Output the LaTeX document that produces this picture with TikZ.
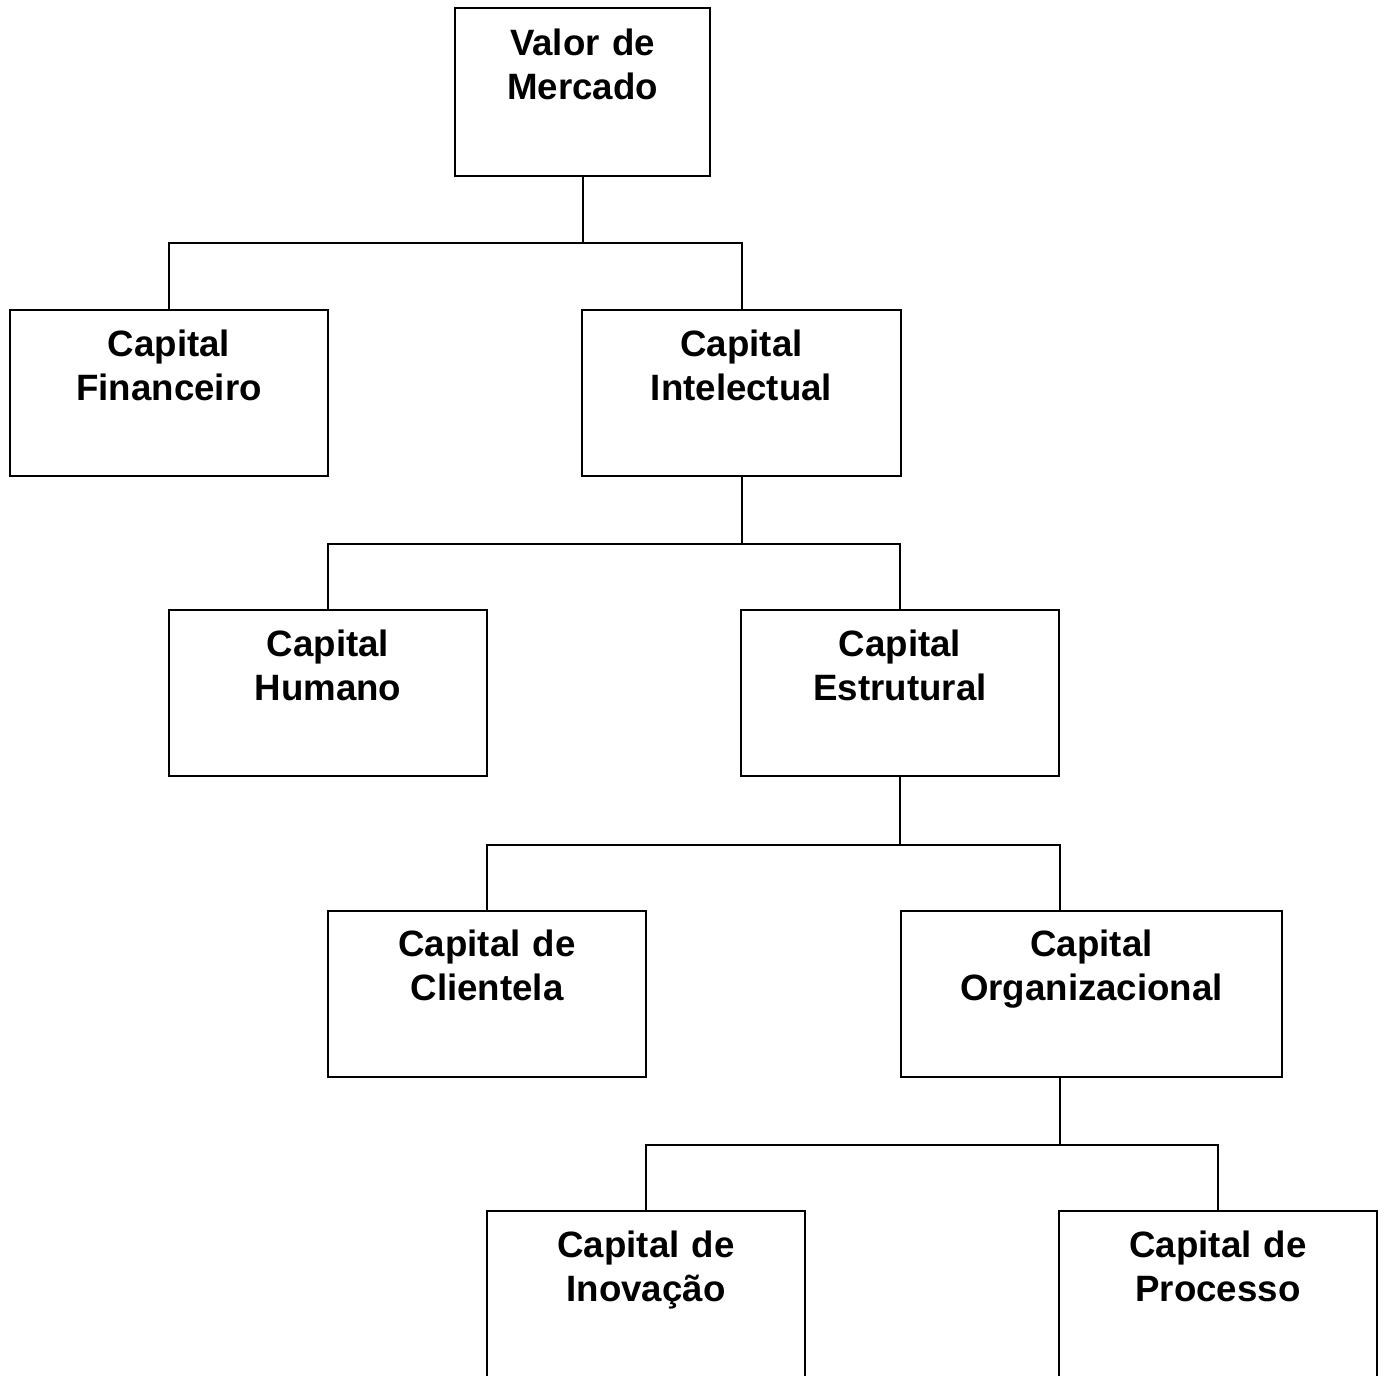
\documentclass[tikz,border=0pt]{standalone}
\usepackage{fontspec}
\setmainfont{Liberation Sans}
\usetikzlibrary{positioning}

\tikzset{
  block/.style={draw, line width=1.5pt, inner sep=0pt, align=center,
    text width=238.5pt, text height=34.5pt, text depth=90pt,
    font=\fontsize{27.5}{33}\selectfont\bfseries},
  link/.style={line width=1.5pt},
}

\begin{document}
\begin{tikzpicture}[x=0.75pt, y=-0.75pt]
      \useasboundingbox (0,0) rectangle (1384,1376);

      \node[block, text width=191.25pt, text height=36pt] (valor) at (582.5,92) {Valor de\\Mercado};

      \node[block] (fin) at (169,393) {Capital\\Financeiro};
      \node[block, text width=239.25pt] (intel) at (741.5,393) {Capital\\Intelectual};

      \node[block] (hum) at (328,693) {Capital\\Humano};
      \node[block] (estr) at (900,693) {Capital\\Estrutural};

      \node[block] (cli) at (487,993.5) {Capital de\\Clientela};
      \node[block, text width=285.75pt] (org) at (1091.5,993.5) {Capital\\Organizacional};

      \node[block, text depth=94pt, anchor=north] (inov) at (646,1210) {Capital de\\Inovação};
      \node[block, text depth=94pt, anchor=north] (proc) at (1218,1210) {Capital de\\Processo};

      \draw[link] (valor.south) -- ++(0,66) coordinate (j1);
      \draw[link] (fin.north) |- (j1) -| (intel.north);

      \draw[link] (intel.south) -- ++(0,67) coordinate (j2);
      \draw[link] (hum.north) |- (j2) -| (estr.north);

      \draw[link] (estr.south) -- ++(0,68) coordinate (j3);
      \draw[link] (cli.north) |- (j3) -| (org.north -| estr.east);

      \draw[link] (org.south -| estr.east) -- ++(0,67) coordinate (j4);
      \draw[link] (inov.north) |- (j4) -| (proc.north);
\end{tikzpicture}
\end{document}
